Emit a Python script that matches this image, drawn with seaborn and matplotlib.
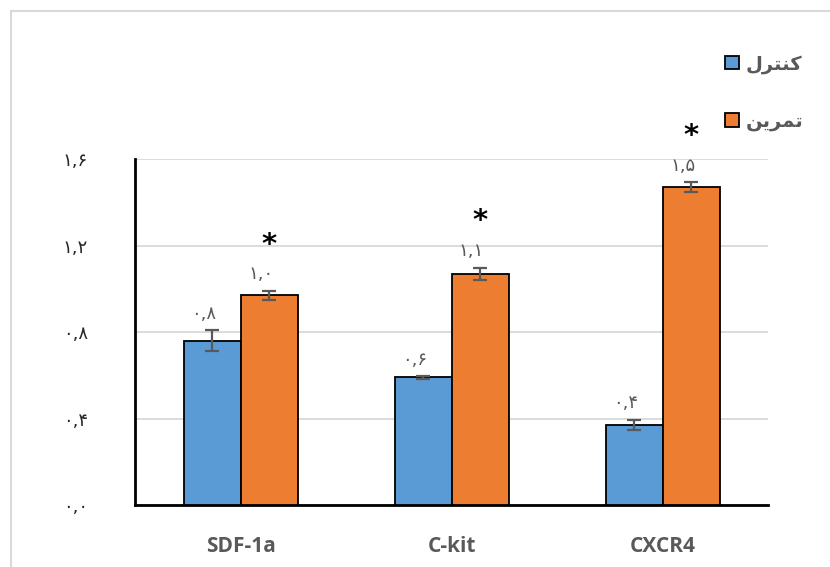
import numpy as np
import pandas as pd
import matplotlib
matplotlib.use("Agg")
import matplotlib.pyplot as plt
import seaborn as sns
from matplotlib.patches import Patch, Rectangle

# data
genes = ["SDF-1a", "C-kit", "CXCR4"]
control = [0.76, 0.59, 0.37]
control_err = [0.048, 0.006, 0.023]
exercise = [0.97, 1.07, 1.47]
exercise_err = [0.02, 0.028, 0.023]
y_ticks = [0.0, 0.4, 0.8, 1.2, 1.6]

# group names (presentation forms, visual order, since matplotlib has no shaping)
control_name = "\uFEDD\uFEAE\uFE98\uFEE8\uFB90"   # کنترل
exercise_name = "\uFEE6\uFBFE\uFEAE\uFEE4\uFE97"  # تمرین
groups = ["control", "exercise"]
colors = ["#5B9BD5", "#ED7D31"]

fa_digits = str.maketrans("0123456789.", "۰۱۲۳۴۵۶۷۸۹,")


def fa(v):
    return f"{v:.1f}".translate(fa_digits)


df = pd.DataFrame({
    "gene": genes * 2,
    "group": ["control"] * 3 + ["exercise"] * 3,
    "value": control + exercise,
})

sns.set_style("white")
plt.rcParams["font.family"] = ["DejaVu Sans"]

fig = plt.figure(figsize=(8.3, 5.67), dpi=100)
ax = fig.add_axes([0.1627, 0.1093, 0.7627, 0.6102])

sns.barplot(data=df, x="gene", y="value", hue="group", hue_order=groups,
            palette=colors, saturation=1, errorbar=None, width=0.54,
            edgecolor="black", linewidth=1.3, legend=False, ax=ax, zorder=3)

errs = {"control": control_err, "exercise": exercise_err}
vals = {"control": control, "exercise": exercise}
for g, cont in zip(groups, ax.containers):
    xs = [b.get_x() + b.get_width() / 2 for b in cont]
    ax.errorbar(xs, vals[g], yerr=errs[g], fmt="none", ecolor="#595959",
                elinewidth=1.6, capsize=5, capthick=1.6, zorder=4)
    for x, v, e in zip(xs, vals[g], errs[g]):
        ax.text(x - 0.04, v + e + 0.035, fa(v), ha="center", va="bottom",
                fontsize=13, color="#595959")
        if g == "exercise":
            ax.text(x, v + e + 0.15, "*", ha="center", va="bottom",
                    fontsize=21, fontweight="bold", color="black")

ax.set_ylim(0, 1.6)
ax.set_yticks(y_ticks)
ax.set_yticklabels([fa(t) for t in y_ticks], fontsize=13, color="#262626")
ax.tick_params(axis="y", length=0, pad=34)
ax.tick_params(axis="x", length=0, pad=22)
ax.set_xticks(range(len(genes)))
ax.set_xticklabels(genes, fontsize=15, fontweight="bold", color="#595959",
                   family="Open Sans")
ax.set_xlabel("")
ax.set_ylabel("")
ax.set_xlim(-0.5, 2.5)
ax.yaxis.grid(True, color="#d9d9d9", linewidth=1.3, zorder=0)
ax.set_axisbelow(True)
for s in ["top", "right"]:
    ax.spines[s].set_visible(False)
for s in ["left", "bottom"]:
    ax.spines[s].set_color("black")
    ax.spines[s].set_linewidth(2)

handles = [Patch(facecolor=c, edgecolor="black", linewidth=1.3) for c in colors]
fig.legend(handles, [control_name, exercise_name], loc="upper left",
           bbox_to_anchor=(0.853, 0.935), frameon=False, handlelength=0.7,
           handleheight=0.7, handletextpad=0.35, labelspacing=1.95,
           prop={"size": 14, "weight": "bold"}, labelcolor="#595959")

# chart area border
fig.patches.append(Rectangle((11 / 830, -0.1), 1.2, 1 - 11 / 567 + 0.1,
                             transform=fig.transFigure, fill=False,
                             edgecolor="#d9d9d9", linewidth=1.5))

fig.savefig("out.png", dpi=100)
